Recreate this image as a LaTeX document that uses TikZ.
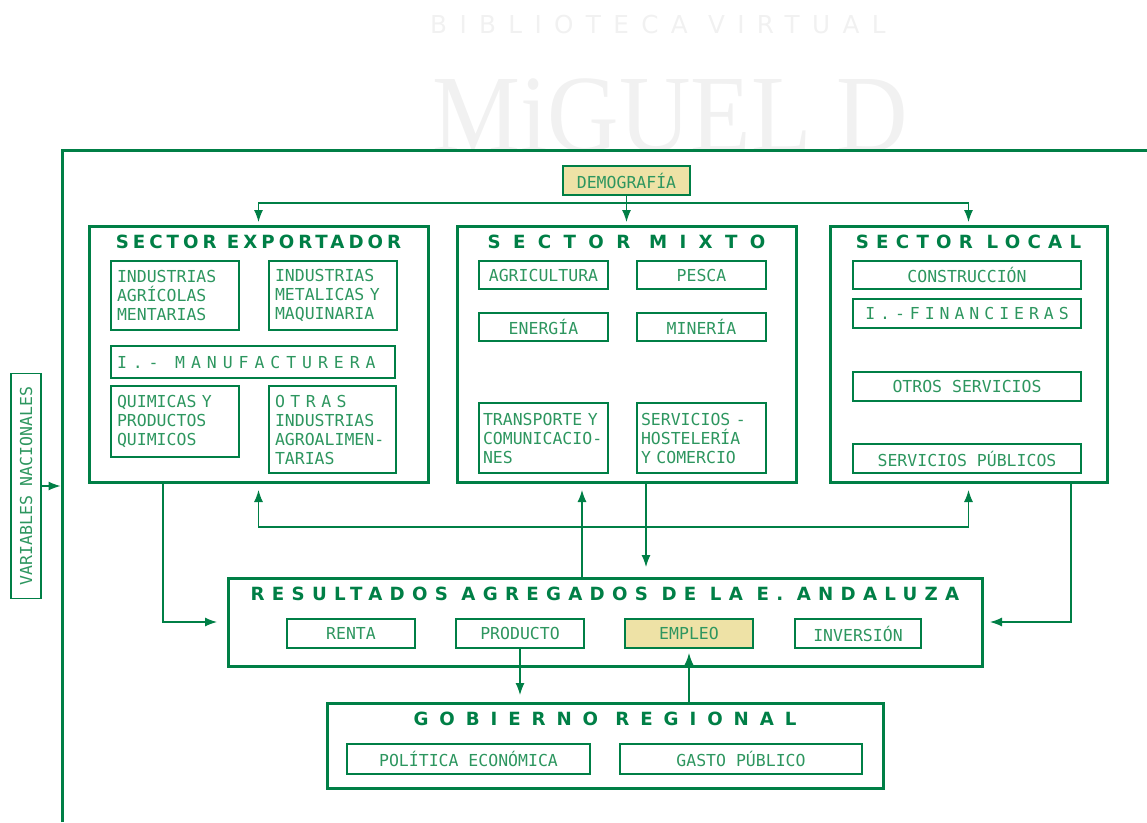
\documentclass[tikz,border=0pt]{standalone}
\usepackage{fontspec}
\usepackage{tikz}
\usetikzlibrary{calc,arrows.meta,positioning}
\usepackage{xcolor}
\newfontfamily\boxfont{DejaVu Sans Mono}
\newfontfamily\headfont{DejaVu Sans}
\newfontfamily\markfont{Liberation Serif}
\definecolor{frameColor}{RGB}{0,127,70}
\definecolor{textColor}{RGB}{45,150,95}
\definecolor{keyColor}{RGB}{238,226,166}
\definecolor{markColor}{RGB}{241,241,241}
\newcommand{\diagfont}{\boxfont\fontsize{16.5}{19}\selectfont}
\newcommand{\diagheadfont}{\headfont\bfseries\fontsize{18.2}{20}\selectfont}

\begin{document}
\begin{tikzpicture}[x=1pt, y=-1pt,
    sector/.style={draw=frameColor, line width=3pt, inner sep=0pt, outer sep=0pt},
    head/.style={font=\diagheadfont\addfontfeature{LetterSpace=#1}, text=frameColor, inner sep=0pt, text height=13.3pt, text depth=0pt},
    unit/.style={draw=frameColor, line width=1.2pt, inner sep=0pt, outer sep=0pt, font=\diagfont, text=textColor, align=center},
    listunit/.style={unit, align=left, inner xsep=6pt},
    key/.style={fill=keyColor},
    arr/.style={-{Latex[length=12pt,width=9pt]}, line width=1.2pt, frameColor},
    frame/.style={line width=3pt, frameColor}
  ]
  \useasboundingbox (0,0) rectangle (1147,822);

  % watermark of the source library
  \node[font=\headfont\fontsize{24.7}{25}\selectfont\addfontfeature{LetterSpace=50}, text=markColor, inner sep=0pt, anchor=base west] (wmtop) at (430,33) {BIBLIOTECA VIRTUAL};
  \node[font=\markfont\fontsize{110}{110}\selectfont, text=markColor, inner sep=0pt, anchor=base west] (wmbig) at (432,151) {\scalebox{0.9}[1]{MiGUEL D}};

  \draw[frame] (62,822) -- (62,150) -- (1147,150);

  % blocks
  \node[sector, minimum width=339pt, minimum height=256pt] (exp) at (258.5,354) {};
  \node[sector, minimum width=339pt, minimum height=256pt] (mix) at (626.5,354) {};
  \node[sector, minimum width=277pt, minimum height=256pt] (loc) at (968.5,354) {};
  \node[sector, minimum width=754pt, minimum height=88pt] (res) at (605,622) {};
  \node[sector, minimum width=556pt, minimum height=85pt] (gob) at (605,745.5) {};

  \node[head=22, below=9.4pt of exp.north] (exptitle) {SECTOR\ EXPORTADOR};
  \node[head=68, below=9pt of mix.north] (mixtitle) {SECTOR MIXTO};
  \node[head=40, below=9pt of loc.north] (loctitle) {SECTOR LOCAL};
  \node[head=40, below=8.9pt of res.north] (restitle) {RESULTADOS AGREGADOS DE LA E. ANDALUZA};
  \node[head=60, below=9.4pt of gob.north] (gobtitle) {GOBIERNO REGIONAL};

  % sector exportador
  \node[listunit, text width=116pt, minimum height=69pt] (indagr) at (175,295.5) {INDUSTRIAS\\AGRÍCOLAS\\MENTARIAS};
  \node[listunit, text width=116pt, minimum height=69pt, right=30pt of indagr] (indmet) {INDUSTRIAS\\METALICAS Y\\MAQUINARIA};
  \node[listunit, text width=272pt, minimum height=32pt, font=\diagfont\addfontfeature{LetterSpace=36}] (manuf) at (253,362) {I.-\ \ \ MANUFACTURERA};
  \node[listunit, text width=116pt, minimum height=71pt] (quim) at (175,421.5) {QUIMICAS Y\\PRODUCTOS\\QUIMICOS};
  \node[listunit, text width=115pt, minimum height=87pt] (otras) at (332.5,429.5) {O T R A S\\INDUSTRIAS\\AGROALIMEN-\\TARIAS};

  % sector mixto
  \node[unit, minimum width=129pt, minimum height=28pt] (agri) at (543.5,275) {AGRICULTURA};
  \node[unit, minimum width=129pt, minimum height=28pt, right=29pt of agri] (pesca) {PESCA};
  \node[unit, minimum width=129pt, minimum height=28pt] (energia) at (543.5,327) {ENERGÍA};
  \node[unit, minimum width=129pt, minimum height=28pt, right=29pt of energia] (mineria) {MINERÍA};
  \node[listunit, text width=121pt, inner xsep=4pt, minimum height=70pt] (transp) at (543.5,438) {TRANSPORTE Y\\COMUNICACIO-\\NES};
  \node[listunit, text width=121pt, inner xsep=4pt, minimum height=70pt, right=29pt of transp] (serv) {SERVICIOS -\\HOSTELERÍA\\Y COMERCIO};

  % sector local
  \node[unit, minimum width=228pt, minimum height=28pt] (constr) at (967,275) {CONSTRUCCIÓN};
  \node[unit, minimum width=228pt, minimum height=29pt, font=\diagfont\addfontfeature{LetterSpace=30}] (financ) at (967,313.5) {I.-FINANCIERAS};
  \node[unit, minimum width=228pt, minimum height=29pt] (otros) at (967,386.5) {OTROS SERVICIOS};
  \node[unit, minimum width=228pt, minimum height=29pt] (publ) at (967,458.5) {SERVICIOS PÚBLICOS};

  % resultados agregados
  \node[unit, minimum width=128pt, minimum height=29pt] (renta) at (351,633.5) {RENTA};
  \node[unit, minimum width=128pt, minimum height=29pt] (producto) at (520,633.5) {PRODUCTO};
  \node[unit, key, minimum width=128pt, minimum height=29pt] (empleo) at (689,633.5) {EMPLEO};
  \node[unit, minimum width=126pt, minimum height=29pt] (inversion) at (858,633.5) {INVERSIÓN};

  % gobierno regional
  \node[unit, minimum width=243pt, minimum height=30pt] (politica) at (468.5,759) {POLÍTICA ECONÓMICA};
  \node[unit, minimum width=242pt, minimum height=30pt] (gasto) at (741,759) {GASTO PÚBLICO};

  % inputs
  \node[unit, key, minimum width=127pt, minimum height=29pt] (demo) at (626.5,180.5) {DEMOGRAFÍA};
  \node[unit, rotate=90, minimum width=225pt, minimum height=30pt] (var) at (26,486) {VARIABLES NACIONALES};

  % connectors
  \coordinate (split) at (626.5,203);
  \coordinate (up) at (582,527);
  \coordinate (down) at (646,527);
  \coordinate (fl) at (62,486);

  \draw[arr, shorten >=4pt] (demo) -- (mix);
  \draw[arr, shorten >=4pt] (split) -| (exp.north);
  \draw[arr, shorten >=4pt] (split) -| (loc.north);

  \draw[arr, shorten >=8pt] (res.north -| up) -- (mix.south -| up);
  \draw[arr, shorten >=8pt] (up) -| (exp.south);
  \draw[arr, shorten >=8pt] (up) -| (loc.south);
  \draw[arr, shorten >=11pt] (mix.south -| down) -- (res.north -| down);

  \draw[arr, shorten >=11pt] ([xshift=-95.5pt]exp.south) |- (res.west);
  \draw[arr, shorten >=8pt] ([xshift=102.5pt]loc.south) |- (res.east);

  \draw[arr, shorten >=8pt] (producto) -- (producto |- gob.north);
  \draw[arr, shorten >=5pt] (gob.north -| empleo) -- (empleo);

  \draw[arr, shorten >=1.5pt] (var) -- (fl);
\end{tikzpicture}
\end{document}
